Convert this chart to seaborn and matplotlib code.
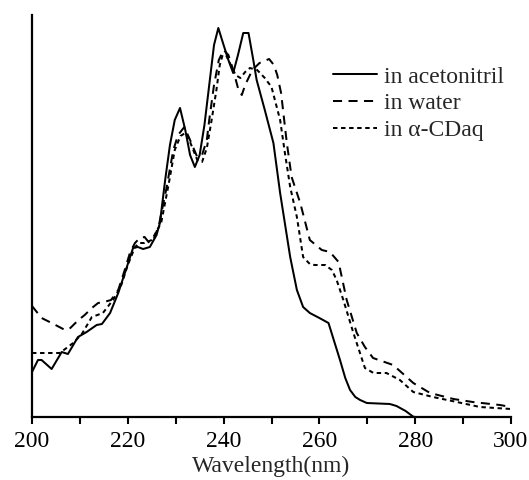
import pandas as pd
import matplotlib.pyplot as plt
import seaborn as sns

# absorbance (arbitrary units, 0 = baseline)
WL_ACN = [200, 201.25, 202, 204.1, 206.2, 207.5, 209.6, 211.4, 213.5, 214.6, 216.3, 218,
          219.8, 221.1, 222.1, 223.2, 224.6, 226, 226.7, 227.8, 228.8, 229.8, 230.9, 232,
          233, 234, 235, 236, 237, 238, 238.9, 240, 241, 242, 243, 244.1, 245.2, 246.2,
          246.9, 248.6, 250.4, 251.8, 253.9, 255.3, 256.6, 258, 260, 261.9, 263, 264.3,
          265.4, 266.4, 267.5, 268.5, 269.9, 274.7, 276.1, 278, 279.6, 280, 300]
ABS_ACN = [45, 57, 57, 48, 65, 63, 80, 85, 92, 93, 104, 124,
           150, 169, 170, 168, 170, 182, 194, 237, 272, 297, 309, 287,
           262, 250, 262, 292, 332, 372, 389, 372, 357, 344, 362, 384, 384, 357,
           337, 307, 274, 224, 160, 127, 110, 104, 99, 94, 77, 57,
           39, 27, 20, 17, 14, 13, 11, 6, 0.3, 0, 0]

WL_WATER = [200, 201, 202, 204.1, 206.9, 208, 209.7, 211, 212.5, 213.8, 215, 216.5, 218,
            219.5, 220.5, 221.5, 222.5, 223.5, 224.5, 225.5, 226.5, 228, 229.5, 230.5,
            231.8, 233, 234.5, 235.5, 236.5, 237, 238, 239, 240, 241, 242, 243, 243.8,
            244.5, 246, 247.5, 249.5, 250.5, 251.2, 252, 253.2, 254.2, 256, 258, 260.5,
            262.2, 264, 265.7, 267.8, 269.5, 271.2, 275.4, 279.6, 283.1, 288, 292, 297.7, 300]
ABS_WATER = [111, 105, 99, 94, 87, 89, 97, 102, 109, 114, 115, 117, 127,
             149, 165, 174, 179, 180, 174, 179, 192, 227, 267, 282,
             290, 277, 260, 262, 277, 297, 332, 357, 367, 362, 347, 329, 322,
             332, 347, 354, 358, 352, 342, 324, 274, 240, 214, 177, 167,
             165, 155, 117, 84, 70, 59, 52, 34, 24, 18, 15, 12, 10]

WL_CD = [200, 202, 204, 205.8, 208.6, 210.4, 212.5, 214.8, 216.9, 218.5, 220, 221.5, 222.5,
         223.5, 225, 226.5, 227, 228.5, 229.8, 231, 232, 233, 234.5, 235.5, 236.5, 237.5,
         238.5, 239.2, 239.8, 240.5, 241.5, 242.5, 243.5, 244.5, 245.5, 247, 248.6, 250,
         251.8, 252.8, 253.9, 255.3, 256.6, 258, 259, 261.2, 262.6, 263.6, 265, 267.1,
         269.5, 271.3, 274, 276.8, 279.6, 283.7, 288.7, 293.5, 300]
ABS_CD = [64, 64, 64, 64, 74, 83, 100, 104, 117, 130, 152, 170, 174,
          174, 177, 190, 195, 232, 267, 281, 284, 275, 257, 255, 269, 297,
          327, 352, 362, 362, 352, 342, 339, 345, 349, 347, 339, 330,
          297, 264, 230, 200, 160, 153, 152, 152, 147, 137, 117, 84,
          49, 44, 44, 37, 25, 20, 15, 10, 8]

LABELS = ["in acetonitril", "in water", "in \u03b1-CDaq"]

df = pd.concat([
    pd.DataFrame({"wl": WL_ACN, "abs": ABS_ACN, "solvent": LABELS[0]}),
    pd.DataFrame({"wl": WL_WATER, "abs": ABS_WATER, "solvent": LABELS[1]}),
    pd.DataFrame({"wl": WL_CD, "abs": ABS_CD, "solvent": LABELS[2]}),
])

sns.set_style("ticks")
plt.rcParams["font.family"] = ["Liberation Serif", "DejaVu Serif"]
plt.rcParams["font.size"] = 17

fig = plt.figure(figsize=(5.29, 4.8), dpi=100)
ax = fig.add_axes([32/529, 63/480, 479/529, 402/480])
sns.lineplot(data=df, x="wl", y="abs", style="solvent", style_order=LABELS,
             dashes={LABELS[0]: "", LABELS[1]: (4.5, 3.2), LABELS[2]: (2.2, 1.8)},
             color="black", lw=1.45, sort=False, ax=ax, estimator=None)

ax.set_xlim(200, 300)
ax.set_ylim(0, 402)
ax.set_xticks(range(200, 301, 20))
ax.set_xticks(range(210, 300, 20), minor=True)
ax.set_yticks([])
ax.tick_params(axis="x", which="both", direction="out", length=5, width=1.5,
               labelsize=17, pad=5, color="black", labelcolor="black")
sns.despine(ax=ax)
for s in ["left", "bottom"]:
    ax.spines[s].set_linewidth(1.6)
    ax.spines[s].set_color("black")
ax.set_xlabel("Wavelength(nm)", fontsize=17, labelpad=3)
ax.set_ylabel("")

handles, labels = ax.get_legend_handles_labels()
ax.legend(handles, labels, loc="upper left", bbox_to_anchor=(333/529, 1 - 66/480),
          bbox_transform=fig.transFigure, frameon=False, fontsize=17,
          handlelength=1.85, handletextpad=0.3, labelspacing=0.22,
          borderpad=0, borderaxespad=0)

plt.savefig("out.png", dpi=100)
plt.close()
